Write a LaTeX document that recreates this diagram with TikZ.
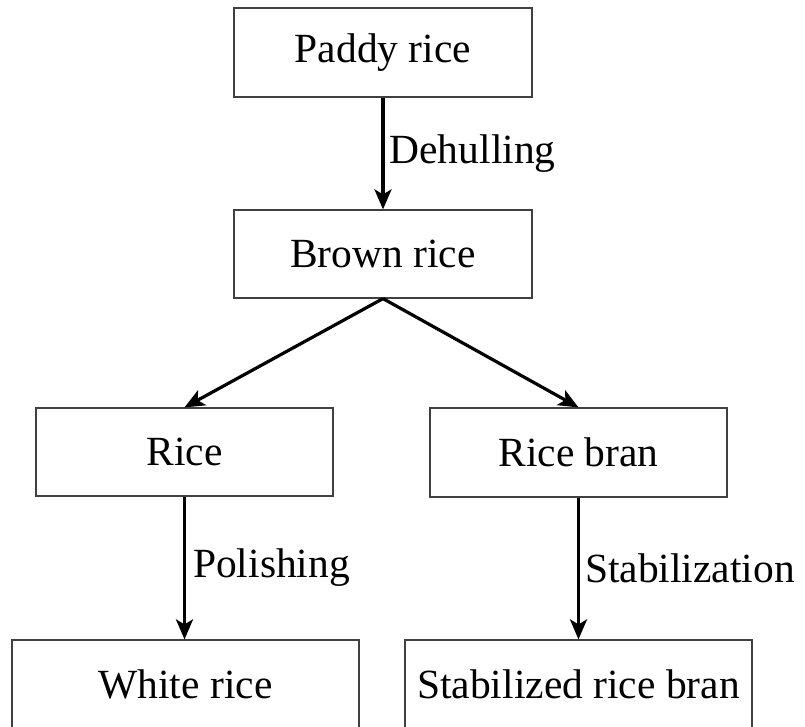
\documentclass[tikz,border=0pt]{standalone}
\usepackage{fontspec}
\setmainfont{Liberation Serif}
\usetikzlibrary{arrows.meta}
\begin{document}
\begin{tikzpicture}[x=1pt,y=1pt,
  box/.style={draw=black!75, line width=1.2pt, rectangle, inner sep=0pt, font=\fontsize{41.5}{48}\selectfont},
  flow/.style={line width=3.2pt, -{Stealth[length=20pt,width=17pt,inset=5pt]}},
  lbl/.style={inner sep=0pt, anchor=west, font=\fontsize{41.5}{48}\selectfont}]
\useasboundingbox (0,0) rectangle (805,-727);
\clip (0,0) rectangle (805,-727);
\fill[white] (0,0) rectangle (805,-727);
\node[box, minimum width=298pt, minimum height=89pt] (paddy) at (383,-52.5) {Paddy rice};
\node[box, minimum width=298pt, minimum height=88pt] (brown) at (383,-254) {Brown rice};
\node[box, minimum width=297pt, minimum height=88pt] (rice) at (184.5,-452) {Rice};
\node[box, minimum width=297pt, minimum height=89pt] (bran) at (578.5,-452.5) {Rice bran};
\node[box, minimum width=347pt, minimum height=89pt] (white) at (185.5,-684.5) {White rice};
\node[box, minimum width=347pt, minimum height=89pt] (stab) at (578.5,-684.5) {Stabilized rice bran};
\draw[flow] (paddy.south) -- node[lbl, xshift=5pt] (dehull) {Dehulling} (brown.north);
\draw[flow] (brown.south) -- (rice.north);
\draw[flow] (brown.south) -- (bran.north);
\draw[flow] (rice.south) -- node[lbl, xshift=7pt] (polish) {Polishing} (rice.south |- white.north);
\draw[flow] (bran.south) -- node[lbl, xshift=5pt] (stablbl) {Stabilization} (bran.south |- stab.north);
\end{tikzpicture}
\end{document}
